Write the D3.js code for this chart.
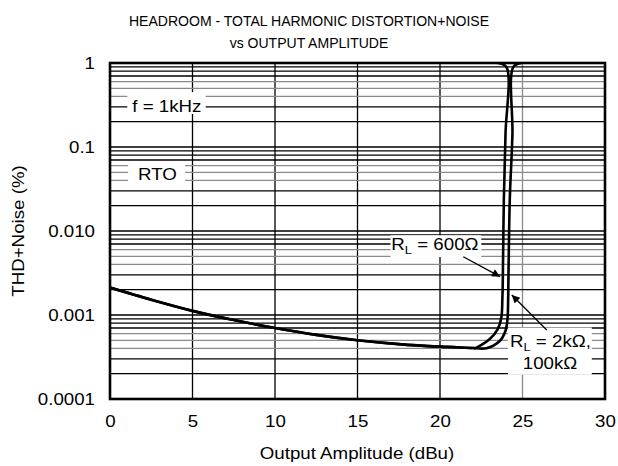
<!DOCTYPE html>
<html>
<head>
<meta charset="utf-8">
<script src="https://cdn.jsdelivr.net/npm/d3@7"></script>
<style>
  html, body { margin: 0; padding: 0; background: #fff; }
  svg { display: block; font-family: "Liberation Sans", Arial, sans-serif; }
</style>
</head>
<body>
<svg id="chart" width="618" height="466"></svg>
<script>
// ---------- data ----------
const titleLines = ["HEADROOM - TOTAL HARMONIC DISTORTION+NOISE", "vs OUTPUT AMPLITUDE"];
const xLabel = "Output Amplitude (dBu)";
const yLabel = "THD+Noise (%)";
const xTicks = [0, 5, 10, 15, 20, 25, 30];
const yTicks = [1, 0.1, 0.01, 0.001, 0.0001];
const yTickLabels = ["1", "0.1", "0.010", "0.001", "0.0001"];

// shared low-level part of both curves
const commonX = [0, 2.5, 5, 7.5, 10, 12.5, 15, 17.5, 20, 22];
const commonY = [0.00212, 0.00152, 0.00112, 0.00087, 0.0007, 0.00058, 0.0005, 0.00045, 0.00042, 0.000405];

// RL = 600 ohm
const r600X = [22.1, 23.0, 23.5, 23.72, 23.78, 23.81, 23.87, 23.97, 24.03, 23.5];
const r600Y = [0.000403, 0.000515, 0.00068, 0.00094, 0.00155, 0.003, 0.024, 0.142, 0.89, 1.0];

// RL = 2k, 100k ohm
const r2kX = [22.1, 22.82, 23.62, 23.97, 24.09, 24.13, 24.15, 24.23, 24.39, 24.45, 24.95];
const r2kY = [0.000403, 0.000403, 0.00049, 0.00065, 0.00089, 0.00155, 0.003, 0.024, 0.142, 0.9, 1.0];

// ---------- layout ----------
const W = 618, H = 466;
const M = { left: 110, right: 13, top: 63, bottom: 67 };
const svg = d3.select("#chart");

const x = d3.scaleLinear().domain([0, 30]).range([M.left, W - M.right]);
const y = d3.scaleLog().domain([0.0001, 1]).range([H - M.bottom, M.top]);

const FS = 16;   // font size
const SX = 1.17; // horizontal stretch of the lettering

// ---------- grid ----------
const grid = svg.append("g");
grid.selectAll("line.v").data(xTicks.slice(1, -1)).enter().append("line")
  .attr("x1", d => x(d)).attr("x2", d => x(d))
  .attr("y1", y(1)).attr("y2", y(0.0001))
  .attr("stroke", d => d === 25 ? "#8a8a8a" : "#000")
  .attr("stroke-width", 1.3);

const hLines = [];
for (let e = -4; e < 0; e++) {
  for (let m = 1; m <= 9; m++) {
    hLines.push({ v: m * Math.pow(10, e), m: m });
  }
}
grid.selectAll("line.h").data(hLines.filter(d => d.v > 0.0002 || d.m !== 1)).enter().append("line")
  .attr("x1", x(0)).attr("x2", x(30))
  .attr("y1", d => y(d.v)).attr("y2", d => y(d.v))
  .attr("stroke", d => (d.m >= 4 && d.m <= 6) ? "#8a8a8a" : "#000")
  .attr("stroke-width", 1.3);

// ---------- annotation boxes (white backgrounds that mask the grid) ----------
const ann = svg.append("g");
function box(x0, x1, y0, y1) {
  ann.append("rect")
    .attr("x", x(x0)).attr("y", y(y0))
    .attr("width", x(x1) - x(x0)).attr("height", y(y1) - y(y0))
    .attr("fill", "#fff");
}
box(1.05, 5.8, 0.45, 0.247);         // f = 1kHz
box(1.1, 4.55, 0.066, 0.0343);       // RTO
box(17.0, 22.5, 0.0089, 0.0049);     // RL = 600
box(24.12, 29.2, 0.00071, 0.000195); // RL = 2k

// ---------- axes ----------
const xAxis = d3.axisBottom(x).tickValues(xTicks).tickSize(0).tickPadding(10);
const gx = svg.append("g").attr("transform", `translate(0,${y(0.0001)})`).call(xAxis);
gx.select(".domain").remove();
gx.selectAll("text").attr("font-size", FS).attr("fill", "#000")
  .attr("font-family", "Liberation Sans, Arial, sans-serif").attr("dy", "1.1em")
  .attr("transform", `scale(${SX},1)`);

const yAxis = d3.axisLeft(y).tickValues(yTicks).tickSize(0).tickPadding(15)
  .tickFormat((d, i) => yTickLabels[i]);
const gy = svg.append("g").attr("transform", `translate(${x(0)},0)`).call(yAxis);
gy.select(".domain").remove();
gy.selectAll("text").attr("font-size", FS).attr("fill", "#000")
  .attr("font-family", "Liberation Sans, Arial, sans-serif")
  .attr("x", -15 / SX).attr("transform", `scale(${SX},1)`);

// ---------- curves ----------
const line = d3.line().x(d => x(d[0])).y(d => y(d[1])).curve(d3.curveCatmullRom.alpha(0.5));
const common = commonX.map((v, i) => [v, commonY[i]]);
const c600 = common.concat(r600X.map((v, i) => [v, r600Y[i]]));
const c2k = common.concat(r2kX.map((v, i) => [v, r2kY[i]]));

svg.append("clipPath").attr("id", "clip").append("rect")
  .attr("x", x(0)).attr("y", y(1)).attr("width", x(30) - x(0)).attr("height", y(0.0001) - y(1));

const curves = svg.append("g").attr("clip-path", "url(#clip)");
[c600, c2k].forEach(c => {
  curves.append("path").attr("d", line(c))
    .attr("fill", "none").attr("stroke", "#000").attr("stroke-width", 2.6)
    .attr("stroke-linejoin", "round");
});

// ---------- frame ----------
svg.append("rect").attr("x", x(0)).attr("y", y(1))
  .attr("width", x(30) - x(0)).attr("height", y(0.0001) - y(1))
  .attr("fill", "none").attr("stroke", "#000").attr("stroke-width", 2.6);

// ---------- annotation texts ----------
function textAt(px, py, anchor, sx, fs) {
  return svg.append("text")
    .attr("transform", `translate(${px},${py}) scale(${sx || SX},1)`)
    .attr("font-size", fs || FS).attr("text-anchor", anchor || "start");
}
textAt(x(1.35), y(0.262)).text("f = 1kHz");
textAt(x(1.7), y(0.0405)).text("RTO");

const t1 = textAt(x(17.05), y(0.00594));
t1.append("tspan").text("R");
t1.append("tspan").attr("font-size", 11).attr("dy", 4).text("L");
t1.append("tspan").attr("dy", -4).text(" = 600Ω");

const t2 = textAt(x(24.24), y(0.000416));
t2.append("tspan").text("R");
t2.append("tspan").attr("font-size", 11).attr("dy", 4).text("L");
t2.append("tspan").attr("dy", -4).text(" = 2kΩ,");
textAt(x(26.67), y(0.000228), "middle").text("100kΩ");

// arrows
const defs = svg.append("defs");
defs.append("marker").attr("id", "ah").attr("viewBox", "0 0 10 10")
  .attr("refX", 10).attr("refY", 5).attr("markerWidth", 12).attr("markerHeight", 8)
  .attr("markerUnits", "userSpaceOnUse").attr("orient", "auto")
  .append("path").attr("d", "M0,0 L10,5 L0,10 Z").attr("fill", "#000");

const arrows = [
  { from: [21.41, 0.00494], to: [23.64, 0.00286] },
  { from: [26.47, 0.000663], to: [24.35, 0.00173] }
];
arrows.forEach(a => {
  svg.append("line")
    .attr("x1", x(a.from[0])).attr("y1", y(a.from[1]))
    .attr("x2", x(a.to[0])).attr("y2", y(a.to[1]))
    .attr("stroke", "#000").attr("stroke-width", 1.3)
    .attr("marker-end", "url(#ah)");
});

// ---------- titles ----------
textAt(309, 25.5, "middle", 0.935, 15).text(titleLines[0]);
textAt(309, 47.5, "middle", 0.935, 15).text(titleLines[1]);
textAt(357, 459, "middle").text(xLabel);
svg.append("text")
  .attr("transform", `translate(24,${(y(1) + y(0.0001)) / 2}) rotate(-90) scale(${SX},1)`)
  .attr("text-anchor", "middle").attr("font-size", FS).text(yLabel);
</script>
</body>
</html>
